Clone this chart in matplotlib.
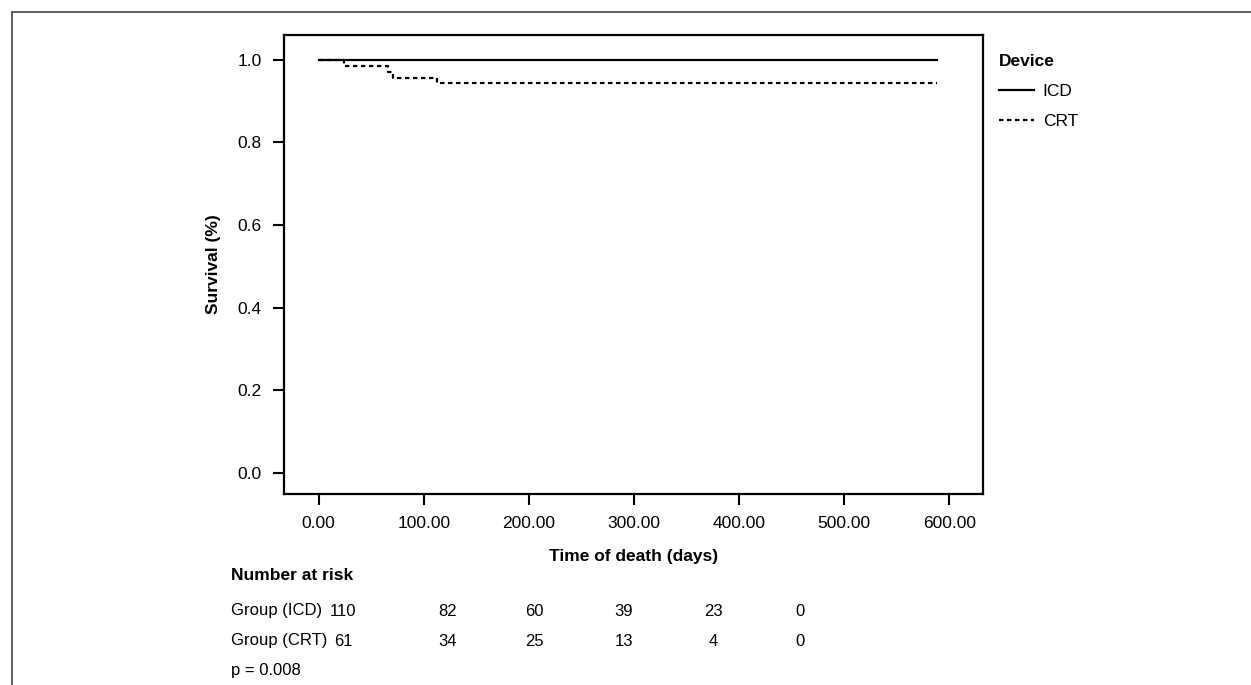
import matplotlib
matplotlib.use("Agg")
from matplotlib import pyplot as plt
from matplotlib.patches import Rectangle

plt.rcParams['font.family'] = ['Liberation Sans', 'DejaVu Sans']

# Data
icd_times = [0, 588]
icd_surv = [1.0, 1.0]
crt_times = [0, 24, 66, 71, 113, 588]
crt_surv = [1.0, 0.984, 0.970, 0.956, 0.943, 0.943]

x_ticks = [0, 100, 200, 300, 400, 500, 600]
y_ticks = [0.0, 0.2, 0.4, 0.6, 0.8, 1.0]

risk_groups = ['Group (ICD)', 'Group (CRT)']
risk_icd = [110, 82, 60, 39, 23, 0]
risk_crt = [61, 34, 25, 13, 4, 0]
risk_x_px = [343, 448, 534, 624, 713, 800]
p_text = 'p = 0.008'

W, H = 1251, 685
FS = 12.5
fig = plt.figure(figsize=(W / 100, H / 100), dpi=100)

def fx(px):
    return px / W

def fy(py):
    return 1 - py / H

# outer frame
fig.patches.append(Rectangle((fx(12), -0.1), 1.2, fy(12) + 0.1, transform=fig.transFigure,
                             fill=False, edgecolor='#444444', linewidth=1.2))

ax = fig.add_axes([fx(284), fy(494), fx(983) - fx(284), fy(35) - fy(494)])
ax.step(icd_times, icd_surv, where='post', color='black', linewidth=1.6, label='ICD')
ax.step(crt_times, crt_surv, where='post', color='black', linewidth=1.6,
        linestyle=(0, (2, 1.6)), label='CRT')

ax.set_xlim(-33, 632)
ax.set_ylim(-0.051, 1.06)
ax.set_xticks(x_ticks)
ax.set_xticklabels(['%.2f' % t for t in x_ticks])
ax.set_yticks(y_ticks)
ax.set_yticklabels(['%.1f' % t for t in y_ticks])
ax.tick_params(direction='out', length=8, width=1.5, labelsize=FS, pad=8)
for s in ax.spines.values():
    s.set_linewidth(1.6)

ax.set_xlabel('Time of death (days)', fontsize=FS, fontweight='bold', labelpad=13)
ax.set_ylabel('Survival (%)', fontsize=FS, fontweight='bold', labelpad=12)

leg = ax.legend(loc='upper left', bbox_to_anchor=(1.006, 0.985), frameon=False, fontsize=FS,
                title='Device', handlelength=2.0, handletextpad=0.5, borderaxespad=0.3,
                labelspacing=0.85)
leg.get_title().set_fontweight('bold')
leg.get_title().set_fontsize(FS)
leg._legend_box.align = 'left'
leg._legend_box.sep = 11

# number at risk table
TS = 12
fig.text(fx(231), fy(576), 'Number at risk', fontsize=FS, fontweight='bold', va='center')
for row_y, name, vals in zip([611, 641], risk_groups, [risk_icd, risk_crt]):
    fig.text(fx(231), fy(row_y), name, fontsize=TS, va='center')
    for xp, v in zip(risk_x_px, vals):
        fig.text(fx(xp), fy(row_y), str(v), fontsize=TS, va='center', ha='center')
fig.text(fx(231), fy(670), p_text, fontsize=TS, va='center')

fig.savefig('out.png', dpi=100)
